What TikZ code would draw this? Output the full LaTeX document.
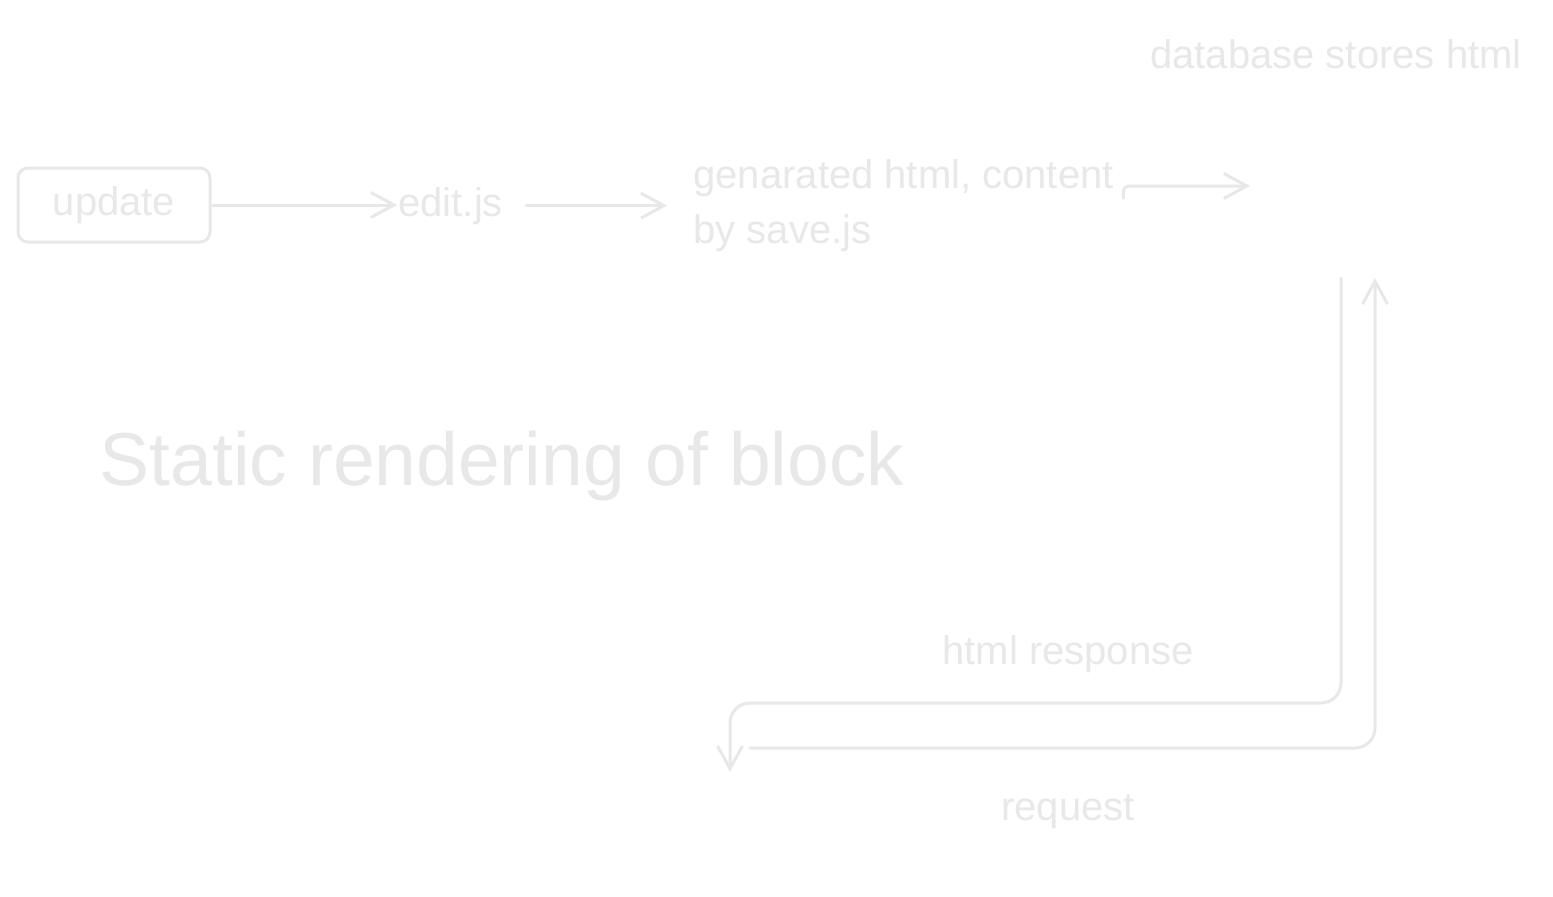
\documentclass[tikz,border=0pt]{standalone}
\usepackage{fontspec}
\setmainfont{Liberation Sans}
\usetikzlibrary{arrows.meta,positioning}
\definecolor{sketchgray}{RGB}{232,232,232}

\begin{document}
\begin{tikzpicture}[x=0.5pt, y=-0.5pt, line width=1.5pt,
  lbl/.style={text=sketchgray, font=\fontsize{20}{27.5}\selectfont, inner sep=0pt},
  flow/.style={draw=sketchgray, line cap=round, rounded corners=10pt,
    -{Straight Barb[length=11.5pt,width=12.5pt,line width=1.5pt]}},
  box/.style={draw=sketchgray, rounded corners=5pt, minimum width=96pt, minimum height=37pt}]

  \fill[white] (0,0) rectangle (1553,896);
  \useasboundingbox (0,0) rectangle (1553,896);

  % texts and box
  \node[box, lbl] (update) at (114,205) {update};
  \node[lbl, anchor=base west] (edit) at (397,216) {edit.js};
  \node[lbl, align=left, anchor=west] (gen) at (692,206) {genarated html, content\\by save.js};
  \node[lbl, anchor=base] (db) at (1336,68) {database stores html};
  \node[lbl, anchor=base] (resplbl) at (1068,664) {html response};
  \node[lbl, anchor=base] (reqlbl) at (1068,820) {request};
  \node[text=sketchgray, font=\fontsize{37.5}{45}\selectfont, inner sep=0pt, anchor=base] (title) at (502,485) {Static rendering of block};

  % free ends
  \coordinate (dbin) at (1250,186);
  \coordinate (dbout) at (1341,278);
  \coordinate (dbback) at (1375,278);
  \coordinate (clientin) at (730,772);
  \coordinate (clientout) at (750,748);

  % connectors
  \draw[flow] (update.east) -- (update.east -| edit.west);
  \draw[flow] ([xshift=11pt]edit.east) -- ([xshift=-12.5pt]edit.east -| gen.west);
  \draw[flow, rounded corners=3pt] ([shift={(4pt,4pt)}]gen.east) |- (dbin);
  \draw[flow] (dbout) |- (clientin |- 0,703) -- (clientin);
  \draw[flow] (clientout) -| (dbback);
\end{tikzpicture}
\end{document}
